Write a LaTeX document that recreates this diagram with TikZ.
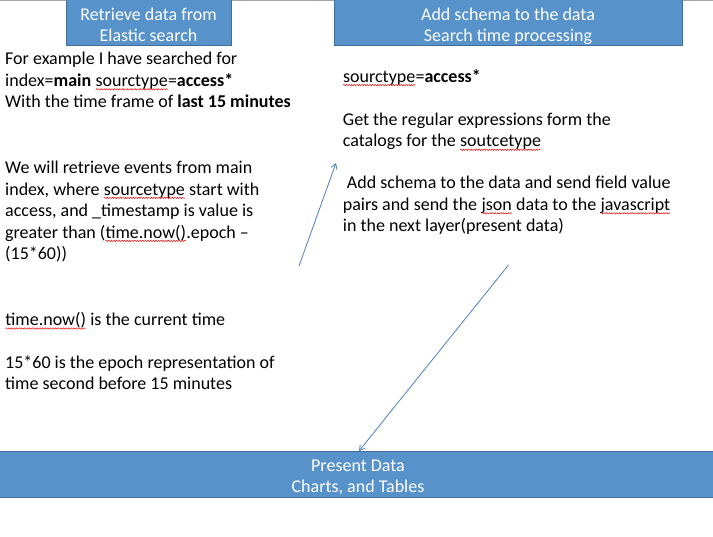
\documentclass[tikz,border=0pt]{standalone}
\usepackage{fontspec}
\setmainfont{Carlito}
\usetikzlibrary{arrows.meta,decorations.pathmorphing}
\definecolor{boxfill}{RGB}{87,146,202}
\definecolor{boxedge}{RGB}{66,111,154}
\definecolor{arrowblue}{RGB}{79,129,189}
\newcommand\sqw[1]{\tikz[baseline=(sqwnode.base)]{\node[inner sep=0pt,outer sep=0pt] (sqwnode) {#1};
  \draw[red, line width=0.45pt, decorate, decoration={snake, segment length=2.6pt, amplitude=0.7pt}] ([yshift=-2.8pt]sqwnode.base west) -- ([yshift=-2.8pt]sqwnode.base east);}}
\tikzset{
  bluebox/.style={draw=boxedge, line width=1.2pt, fill=boxfill, inner sep=0pt},
  boxtext/.style={text=white, font=\fontsize{18}{21}\selectfont, align=center, inner sep=0pt},
  bodytext/.style={font=\fontsize{18}{21.5}\selectfont, align=left, inner sep=0pt, anchor=base west},
  conn/.style={draw=arrowblue, line width=0.8pt, -{Straight Barb[length=5pt,width=6pt]}}
}
\begin{document}
\begin{tikzpicture}[x=1pt,y=-1pt]
\useasboundingbox (0,0) rectangle (713,537);
\fill[white] (0,0) rectangle (713,537);
\draw[gray!70, line width=1pt] (0,0.5) -- (713,0.5);
% header boxes
\node[bluebox, minimum width=165pt, minimum height=56pt, anchor=south west] (b1) at (66,46) {};
\node[bluebox, minimum width=348pt, minimum height=56pt, anchor=south west] (b2) at (334,46) {};
\node[bluebox, minimum width=720pt, minimum height=46pt, anchor=south west] (b3) at (-3,498) {};
\node[boxtext, anchor=base] (t1) at (148.5,41.7) {Retrieve data from\\Elastic search};
\node[boxtext, anchor=base] (t2) at (508,41.7) {Add schema to the data\\Search time processing};
\node[boxtext, anchor=base] (t3) at (358,492.7) {Present Data\\Charts, and Tables};
% left text
\node[bodytext] (l1) at (5,108) {For example I have searched for\\index=\textbf{main} \sqw{sourctype}=\textbf{access*}\\With the time frame of \textbf{last 15 minutes}};
\node[bodytext] (l2) at (5,259.6) {We will retrieve events from main\\index, where \sqw{sourcetype} start with\\access, and \_timestamp is value is\\greater than (\sqw{time.now()}.epoch --\\(15*60))};
\node[bodytext] (l3) at (5,325.7) {\sqw{time.now()} is the current time};
\node[bodytext] (l4) at (5,390) {15*60 is the epoch representation of\\time second before 15 minutes};
% right text
\node[bodytext] (r1) at (342.7,82.3) {\sqw{sourctype}=\textbf{access*}};
\node[bodytext] (r2) at (342.7,147) {Get the regular expressions form the\\catalogs for the \sqw{soutcetype}};
\node[bodytext] (r3) at (342.7,232) {\ Add schema to the data and send field value\\pairs and send the \sqw{json} data to the \sqw{javascript}\\in the next layer(present data)};
% arrows
\coordinate (a1s) at (299,266);
\coordinate (a1e) at (336,163);
\coordinate (a2s) at (508.5,265);
\coordinate (a2e) at (359,451);
\draw[conn] (a1s) -- (a1e);
\draw[conn] (a2s) -- (a2e);
\end{tikzpicture}
\end{document}
